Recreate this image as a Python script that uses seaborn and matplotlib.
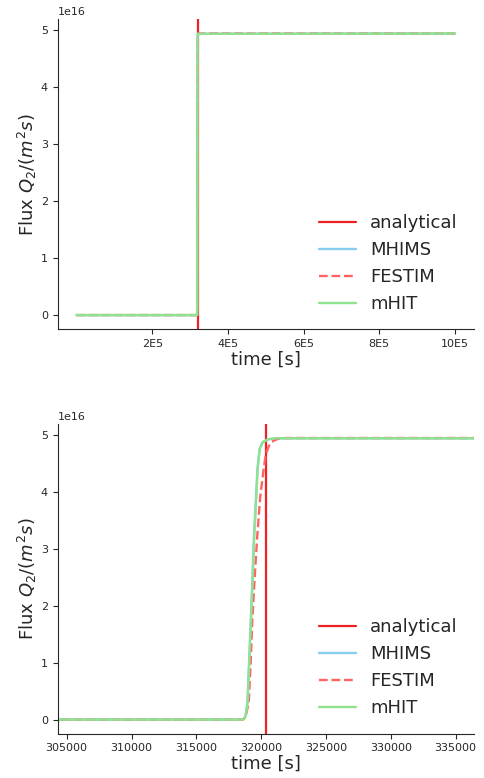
"""
Flux Q2 through the membrane: analytical breakthrough vs three codes
"""

import numpy as np
import matplotlib
matplotlib.use("Agg")
import matplotlib.pyplot as plt
import seaborn as sns
import pandas as pd

# breakthrough time from the analytical solution [s]
t_analytical = 320350

# MHIMS / mHIT (nearly identical curves)
t_mhims = [0, 318600, 318700, 318780, 318940, 318990, 319100, 319200, 319330, 319440,
           319600, 319710, 319870, 320100, 320480, 321030, 1000000]
q_mhims = [0, 0, 0.02, 0.06, 0.30, 0.60, 1.20, 1.76, 2.50, 3.20,
           3.90, 4.40, 4.75, 4.87, 4.92, 4.94, 4.945]

t_mhit = [0, 318620, 318720, 318800, 318960, 319010, 319120, 319220, 319350, 319460,
          319620, 319730, 319890, 320120, 320500, 321050, 1000000]
q_mhit = [0, 0, 0.02, 0.06, 0.30, 0.60, 1.20, 1.76, 2.50, 3.20,
          3.90, 4.40, 4.75, 4.87, 4.92, 4.94, 4.945]

# FESTIM lags slightly behind
t_festim = [0, 318600, 318800, 319040, 319190, 319320, 319500, 319690, 319920,
            320190, 320350, 320580, 320810, 321280, 321900, 1000000]
q_festim = [0, 0, 0.05, 0.30, 1.00, 1.76, 2.50, 3.20, 3.90,
            4.40, 4.65, 4.80, 4.88, 4.93, 4.945, 4.945]

scale = 1e16

top_ticks = [2e5, 4e5, 6e5, 8e5, 1e6]
top_labels = ['2E5', '4E5', '6E5', '8E5', '10E5']
zoom_ticks = [305000, 310000, 315000, 320000, 325000, 330000, 335000]
zoom_xlim = (304300, 336400)


def make_frame(t, q):
    return pd.DataFrame({'time': t, 'flux': np.array(q) * scale})


series = [
    ('MHIMS', make_frame(t_mhims, q_mhims), '#87cdee', '-'),
    ('FESTIM', make_frame(t_festim, q_festim), '#ff6464', '--'),
    ('mHIT', make_frame(t_mhit, q_mhit), '#8fe38f', '-'),
]

sns.set_style('ticks')
plt.rcParams['font.family'] = ['DejaVu Sans']

fig, axes = plt.subplots(2, 1, figsize=(4.84, 7.78), dpi=100)
fig.subplots_adjust(left=0.119, right=0.979, top=0.975, bottom=0.057, hspace=0.306)

for ax in axes:
    ax.axvline(t_analytical, color='#ee2222', lw=1.6, label='analytical')
    for name, df, color, ls in series:
        sns.lineplot(data=df, x='time', y='flux', ax=ax, color=color,
                     linestyle=ls, lw=1.7, estimator=None, sort=False, label=name)
    ax.set_xlabel('time [s]', fontsize=13, labelpad=1)
    ax.set_ylabel(r'Flux $Q_2/(m^2s)$', fontsize=13, labelpad=1)
    ax.tick_params(labelsize=8)
    ax.yaxis.get_offset_text().set_fontsize(8)
    ax.legend(loc='lower right', frameon=False, fontsize=13)
    sns.despine(ax=ax)

axes[0].set_xticks(top_ticks)
axes[0].set_xticklabels(top_labels)

axes[1].set_xlim(zoom_xlim)
axes[1].set_xticks(zoom_ticks)
axes[1].set_xticklabels([str(t) for t in zoom_ticks])

plt.savefig('out.png', dpi=100)
plt.close()
